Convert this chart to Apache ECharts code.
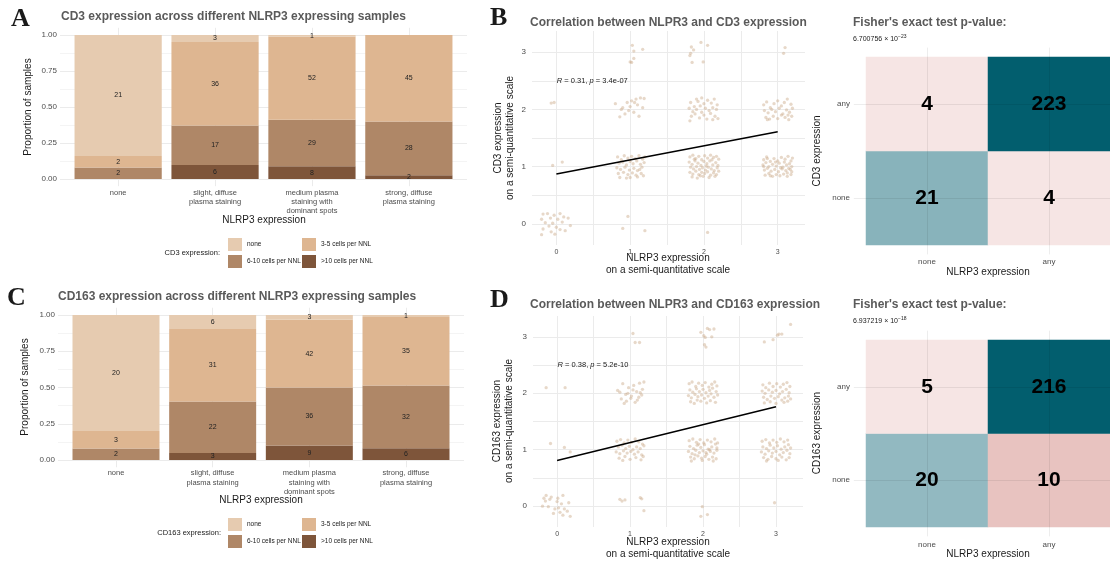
<!DOCTYPE html>
<html><head><meta charset="utf-8">
<script src="https://cdn.jsdelivr.net/npm/echarts@6/dist/echarts.min.js"></script>
<style>html,body{margin:0;padding:0;background:#fff}#c{width:1110px;height:562px}</style>
</head><body><div id="c"></div>
<script>
// ---------------- DATA ----------------
const nlrp3Categories = ['none', 'slight, diffuse\nplasma staining', 'medium plasma\nstaining with\ndominant spots', 'strong, diffuse\nplasma staining'];
const stainLevels = ['none', '3-5 cells per NNL', '6-10 cells per NNL', '>10 cells per NNL'];
// counts per NLRP3 category
const cd3None = [21, 3, 1, 0];
const cd3Low = [2, 36, 52, 45];
const cd3Mid = [2, 17, 29, 28];
const cd3High = [0, 6, 8, 2];
const cd163None = [20, 6, 3, 1];
const cd163Low = [3, 31, 42, 35];
const cd163Mid = [2, 22, 36, 32];
const cd163High = [0, 3, 9, 6];
const proportionTicks = [0, 0.25, 0.5, 0.75, 1];
const scaleTicks = [0, 1, 2, 3];

// jittered scatter points [NLRP3, CD3]
const cd3Points = [
 [-0.18,0.17],[-0.12,0.18],[-0.03,0.15],[0.05,0.18],[0.1,0.12],[0.16,0.1],[-0.2,0.08],[-0.08,0.1],[0.02,0.08],[-0.15,0.02],[-0.05,0.01],[0.08,0.03],[0.19,-0.03],[-0.1,-0.04],[0.0,-0.06],[-0.18,-0.09],[0.05,-0.1],[-0.07,-0.14],[0.12,-0.12],[-0.2,-0.19],[-0.02,-0.18],
 [-0.05,1.02],[0.08,1.08],
 [-0.07,2.11],[-0.03,2.12],
 [0.97,0.13],[0.9,-0.08],[1.2,-0.12],
 [0.83,1.17],[0.88,1.12],[0.92,1.19],[0.97,1.15],[1.02,1.18],[1.07,1.14],[1.12,1.19],[1.17,1.13],[1.2,1.17],[0.85,1.06],[0.9,1.08],[0.95,1.03],[1.0,1.09],[1.04,1.05],[1.09,1.1],[1.14,1.04],[1.19,1.07],[0.82,0.98],[0.87,0.95],[0.93,0.99],[0.99,0.94],[1.05,0.97],[1.1,0.93],[1.16,0.99],[0.84,0.88],[0.91,0.9],[0.97,0.86],[1.03,0.89],[1.08,0.85],[1.15,0.88],[0.86,0.81],[0.95,0.8],[1.0,0.81],[1.1,0.82],[1.18,0.84],[1.13,0.95],
 [0.8,2.1],[0.86,1.87],[0.9,2.03],[0.93,1.92],[0.96,2.12],[1.0,2.05],[1.02,2.15],[1.05,1.95],[1.08,2.18],[1.1,2.08],[1.12,1.88],[1.14,2.2],[1.17,2.03],[1.19,2.19],[0.98,1.98],[1.06,2.12],[0.88,2.0],
 [1.03,3.12],[1.05,3.02],[1.17,3.05],[1.05,2.89],[1.0,2.83],[1.02,2.82],
 [2.05,-0.15],
 [1.81,1.17],[1.85,1.2],[1.89,1.14],[1.93,1.18],[1.97,1.12],[2.01,1.19],[2.05,1.15],[2.09,1.2],[2.13,1.16],[2.17,1.18],[2.2,1.13],[1.8,1.08],[1.84,1.04],[1.88,1.1],[1.92,1.06],[1.96,1.02],[2.0,1.09],[2.04,1.05],[2.08,1.1],[2.12,1.03],[2.16,1.07],[2.19,1.02],[1.82,0.99],[1.86,0.96],[1.9,1.0],[1.94,0.95],[1.98,0.98],[2.02,0.94],[2.06,0.99],[2.1,0.96],[2.14,0.93],[2.18,0.98],[1.81,0.9],[1.85,0.87],[1.89,0.92],[1.93,0.86],[1.97,0.9],[2.01,0.88],[2.05,0.91],[2.09,0.85],[2.13,0.89],[2.17,0.86],[2.2,0.92],[1.84,0.82],[1.91,0.8],[1.99,0.83],[2.07,0.81],[2.15,0.83],[1.87,1.13],[2.03,1.01],[2.11,1.12],[1.95,0.84],
 [1.82,2.12],[1.87,2.05],[1.92,2.14],[1.97,2.2],[2.0,2.1],[2.05,2.16],[2.1,2.11],[2.14,2.18],[2.18,2.08],[1.8,2.02],[1.85,1.96],[1.9,2.0],[1.95,2.06],[2.02,2.02],[2.07,1.98],[2.12,2.03],[2.17,2.0],[1.83,1.88],[1.88,1.92],[1.94,1.85],[2.0,1.9],[2.04,1.83],[2.09,1.93],[2.15,1.88],[2.19,1.84],[1.81,1.8],[1.97,1.95],[2.12,1.82],[1.9,2.18],
 [1.83,3.09],[1.86,3.04],[1.82,2.98],[1.81,2.94],[1.96,3.17],[2.05,3.12],[1.84,2.82],[1.99,2.83],
 [2.81,1.12],[2.85,1.17],[2.9,1.09],[2.95,1.14],[3.0,1.1],[3.05,1.16],[3.1,1.13],[3.14,1.18],[3.18,1.1],[3.2,1.15],[2.8,1.03],[2.84,1.07],[2.88,1.0],[2.93,1.04],[2.98,1.01],[3.02,1.06],[3.07,0.99],[3.12,1.03],[3.16,1.05],[3.19,1.0],[2.82,0.94],[2.86,0.97],[2.91,0.92],[2.96,0.95],[3.01,0.91],[3.06,0.96],[3.11,0.93],[3.15,0.97],[3.19,0.91],[2.83,0.85],[2.88,0.88],[2.93,0.83],[2.98,0.86],[3.03,0.84],[3.08,0.87],[3.13,0.83],[3.18,0.86],[2.81,1.0],[2.97,1.08],[3.09,1.08],[2.9,0.84],[3.04,0.98],[3.17,0.95],[2.86,1.14],[3.13,0.89],
 [2.81,2.08],[2.85,2.13],[2.9,2.03],[2.95,2.1],[3.0,2.15],[3.05,2.06],[3.09,2.12],[3.13,2.18],[3.18,2.09],[2.82,1.98],[2.87,1.94],[2.92,2.0],[2.97,1.96],[3.02,2.02],[3.07,1.92],[3.12,1.99],[3.16,1.95],[3.2,2.02],[2.84,1.86],[2.89,1.83],[2.94,1.88],[3.0,1.84],[3.05,1.9],[3.1,1.86],[3.15,1.82],[3.19,1.88],[2.86,1.82],[3.14,1.9],
 [3.1,3.08],[3.08,2.98]
];
// jittered scatter points [NLRP3, CD163]
const cd163Points = [
 [-0.2,0.0],[-0.15,0.19],[-0.08,0.16],[0.01,0.14],[0.08,0.19],[-0.18,0.14],[0.0,0.08],[0.06,0.04],[0.16,0.06],[-0.12,-0.01],[-0.03,-0.05],[0.1,-0.05],[0.04,-0.11],[0.14,-0.09],[-0.05,-0.13],[0.08,-0.16],[0.18,-0.18],[-0.16,0.09],[0.02,-0.03],[-0.1,0.12],
 [-0.09,1.11],[0.1,1.04],[0.18,0.96],
 [-0.15,2.1],[0.11,2.1],
 [0.86,0.12],[0.89,0.09],[1.14,0.15],[1.16,0.13],[1.19,-0.08],[0.93,0.11],
 [0.82,1.15],[0.87,1.18],[0.92,1.12],[0.97,1.17],[1.02,1.13],[1.07,1.19],[1.12,1.14],[1.17,1.1],[0.84,1.05],[0.89,1.08],[0.94,1.02],[0.99,1.06],[1.04,1.0],[1.09,1.05],[1.14,1.02],[1.19,1.07],[0.81,0.96],[0.86,0.93],[0.91,0.98],[0.96,0.94],[1.01,0.97],[1.06,0.92],[1.11,0.96],[1.16,0.91],[0.85,0.85],[0.93,0.88],[1.0,0.83],[1.08,0.86],[1.15,0.82],[0.9,0.81],[1.18,0.88],
 [0.83,2.05],[0.86,2.02],[0.9,2.17],[0.94,1.98],[0.98,2.1],[1.02,1.95],[1.05,2.14],[1.09,2.03],[1.13,2.18],[1.17,2.07],[1.19,2.2],[0.88,1.9],[0.95,1.86],[1.01,1.91],[1.07,1.84],[1.12,1.93],[1.16,1.97],[0.92,1.82],[1.04,2.06],[1.1,1.88],[0.97,2.0],[1.14,2.01],
 [1.04,3.06],[1.07,2.9],[1.13,2.9],
 [1.99,-0.01],[1.97,-0.18],[2.06,-0.15],
 [1.81,1.16],[1.86,1.19],[1.91,1.13],[1.96,1.18],[2.01,1.12],[2.06,1.17],[2.11,1.14],[2.16,1.19],[2.2,1.12],[1.82,1.06],[1.87,1.02],[1.92,1.08],[1.97,1.04],[2.02,1.09],[2.07,1.01],[2.12,1.05],[2.17,1.1],[1.8,0.97],[1.85,0.93],[1.9,0.99],[1.95,0.95],[2.0,0.98],[2.05,0.92],[2.1,0.97],[2.15,0.94],[2.19,0.99],[1.83,0.87],[1.88,0.84],[1.93,0.89],[1.98,0.85],[2.03,0.88],[2.08,0.83],[2.13,0.87],[2.18,0.84],[1.84,0.8],[1.99,0.81],[2.14,0.8],[1.94,1.1],[2.09,1.0],[2.04,0.95],[1.89,0.91],[2.19,1.03],
 [1.81,2.17],[1.85,2.2],[1.9,2.12],[1.94,2.18],[1.99,2.14],[2.03,2.19],[2.08,2.11],[2.12,2.16],[2.16,2.2],[2.19,2.13],[1.82,2.06],[1.86,2.02],[1.91,2.08],[1.95,2.03],[2.0,2.07],[2.04,2.01],[2.09,2.05],[2.13,2.09],[2.18,2.03],[1.8,1.96],[1.84,1.92],[1.89,1.98],[1.93,1.94],[1.98,1.97],[2.02,1.91],[2.07,1.95],[2.11,1.99],[2.15,1.93],[2.2,1.97],[1.83,1.85],[1.88,1.82],[1.97,1.86],[2.05,1.83],[2.1,1.87],[2.17,1.84],[1.92,1.88],
 [1.97,3.08],[2.06,3.15],[2.09,3.13],[2.15,3.14],[2.01,3.02],[2.03,2.99],[2.02,2.86],[2.04,2.82],[2.12,3.0],
 [2.98,0.06],
 [2.81,1.15],[2.86,1.18],[2.91,1.12],[2.96,1.17],[3.01,1.13],[3.06,1.19],[3.11,1.14],[3.16,1.17],[2.82,1.05],[2.87,1.02],[2.92,1.08],[2.97,1.03],[3.02,1.07],[3.07,1.01],[3.12,1.05],[3.17,1.09],[3.2,1.03],[2.8,0.96],[2.85,0.92],[2.9,0.98],[2.95,0.94],[3.0,0.97],[3.05,0.91],[3.1,0.95],[3.15,0.99],[3.19,0.93],[2.83,0.86],[2.89,0.83],[2.94,0.88],[3.0,0.84],[3.08,0.87],[3.14,0.82],[3.18,0.86],[2.87,0.8],[3.03,0.81],
 [2.82,2.15],[2.86,2.1],[2.91,2.18],[2.96,2.12],[3.01,2.17],[3.06,2.11],[3.1,2.16],[3.15,2.19],[3.19,2.12],[2.81,2.04],[2.85,2.0],[2.9,2.06],[2.95,2.02],[3.0,2.05],[3.05,1.99],[3.09,2.03],[3.14,2.07],[3.18,2.01],[2.83,1.93],[2.88,1.89],[2.93,1.95],[2.98,1.91],[3.03,1.94],[3.08,1.88],[3.12,1.92],[3.17,1.95],[3.2,1.9],[2.84,1.83],[2.92,1.85],[3.0,1.82],[3.11,1.84],[3.16,1.86],
 [2.84,2.91],[2.96,2.95],[3.04,3.05],[3.08,3.05],[3.2,3.22],[3.02,3.03]
];
const cd3Fit = [[0, 0.87], [3, 1.61]];
const cd163Fit = [[0, 0.81], [3, 1.76]];
const cd3Stat = ['0.31', '3.4e-07'];
const cd163Stat = ['0.38', '5.2e-10'];

const fisherLevels = ['none', 'any'];
// [NLRP3 level][marker level]
const fisherCd3 = [[21, 4], [4, 223]];
const fisherCd163 = [[20, 5], [10, 216]];
const fisherCd3P = ['6.700756', '\u221223'];
const fisherCd163P = ['6.937219', '\u221218'];

// ---------------- STYLE ----------------
const FONT = '"Liberation Sans", Arial, sans-serif';
const stainColors = ['#E6CBB0', '#DEB691', '#AF8767', '#7E553A'];
const fisherColorsTop = [['#88B3BB', '#F6E5E4'], ['#F6E5E4', '#025E6E']];
const fisherColorsBottom = [['#92B9C1', '#F6E5E4'], ['#E8C3C0', '#025E6E']];
const GRID_COLOR = '#EBEBEB', MINOR_COLOR = '#F4F4F4', TICK_COLOR = '#4D4D4D';
const TITLE_COLOR = '#5A5A5A';

const grids = [], xAxes = [], yAxes = [], series = [], legends = [], graphics = [];

function txt(x, y, t, font, o) {
  o = o || {};
  graphics.push({type: 'text', x: x, y: y, rotation: o.rotation || 0, silent: true, z: 100,
    style: {text: t, font: font, fill: o.fill || '#1a1a1a',
      align: o.align || 'left', textAlign: o.align || 'left',
      verticalAlign: 'middle', textVerticalAlign: 'middle',
      lineHeight: o.lineHeight, rich: o.rich}});
}

function addGrid(l, t, w, h) {
  grids.push({left: l, top: t, width: w, height: h, containLabel: false, outerBoundsMode: 'none'});
  return grids.length - 1;
}

function addBarPanel(L, counts, stackId) {
  const pxu = L.width / 4.2;
  const gV = addGrid(L.left, L.top - 0.05 * L.height, L.width, L.height * 1.1);
  xAxes.push({type: 'value', gridIndex: gV, min: 0.4, max: 4.6, axisLine: {show: false}, axisTick: {show: false}, axisLabel: {show: false},
    splitLine: {show: true, showMinLine: false, showMaxLine: false, lineStyle: {color: GRID_COLOR, width: 1}}});
  yAxes.push({type: 'value', gridIndex: gV, min: -0.05, max: 1.05, axisLine: {show: false}, axisTick: {show: false}, axisLabel: {show: false}, splitLine: {show: false}});
  const gH = addGrid(L.left, L.top, L.width, L.height);
  xAxes.push({type: 'value', gridIndex: gH, min: 0, max: 1, axisLine: {show: false}, axisTick: {show: false}, axisLabel: {show: false}, splitLine: {show: false}});
  yAxes.push({type: 'value', gridIndex: gH, min: proportionTicks[0], max: proportionTicks[proportionTicks.length - 1], interval: 0.25,
    axisLine: {show: false}, axisTick: {show: false},
    axisLabel: {formatter: v => v.toFixed(2), fontSize: 8, color: TICK_COLOR, margin: 3, fontFamily: FONT},
    splitLine: {show: true, lineStyle: {color: GRID_COLOR, width: 1}},
    minorTick: {show: false, splitNumber: 2}, minorSplitLine: {show: true, lineStyle: {color: MINOR_COLOR, width: 1}}});
  const gB = addGrid(L.left + 0.1 * pxu, L.top, 4 * pxu, L.height);
  xAxes.push({type: 'category', gridIndex: gB, data: nlrp3Categories, axisLine: {show: false}, axisTick: {show: false}, splitLine: {show: false},
    axisLabel: {interval: 0, fontSize: 7.5, lineHeight: 9.3, color: TICK_COLOR, margin: L.labelMargin, fontFamily: FONT}});
  yAxes.push({type: 'value', gridIndex: gB, min: 0, max: 1, axisLine: {show: false}, axisTick: {show: false}, axisLabel: {show: false}, splitLine: {show: false}});
  const totals = nlrp3Categories.map((_, i) => counts.reduce((s, a) => s + a[i], 0));
  [3, 2, 1, 0].forEach(k => {
    series.push({type: 'bar', name: stainLevels[k], xAxisIndex: gB, yAxisIndex: gB, stack: stackId, barCategoryGap: '10%',
      itemStyle: {color: stainColors[k]}, data: counts[k].map((c, i) => c / totals[i]),
      label: {show: true, position: 'inside', fontSize: 7, color: '#222', fontFamily: FONT,
        formatter: p => counts[k][p.dataIndex] ? String(counts[k][p.dataIndex]) : ''},
      emphasis: {disabled: true}, silent: true});
  });
}

function addScatterPanel(L, points, fit, stat) {
  const g = addGrid(L.left, L.top, L.width, L.height);
  const intLabel = v => scaleTicks.indexOf(Math.round(v * 1000) / 1000) >= 0 ? String(Math.round(v)) : '';
  xAxes.push({type: 'value', gridIndex: g, min: -0.33, max: 3.37, splitNumber: 8, axisLine: {show: false}, axisTick: {show: false},
    axisLabel: {formatter: intLabel, showMinLabel: false, showMaxLabel: false, fontSize: 7, color: TICK_COLOR, margin: 4, fontFamily: FONT},
    splitLine: {show: true, showMinLine: false, showMaxLine: false, lineStyle: {color: GRID_COLOR, width: 1}}});
  yAxes.push({type: 'value', gridIndex: g, min: -0.37, max: 3.37, splitNumber: 8, axisLine: {show: false}, axisTick: {show: false},
    axisLabel: {formatter: intLabel, showMinLabel: false, showMaxLabel: false, fontSize: 8, color: TICK_COLOR, margin: 6, fontFamily: FONT},
    splitLine: {show: true, showMinLine: false, showMaxLine: false, lineStyle: {color: GRID_COLOR, width: 1}}});
  series.push({type: 'scatter', xAxisIndex: g, yAxisIndex: g, data: points, symbolSize: 3.3, silent: true,
    itemStyle: {color: 'rgba(200,166,132,0.55)'},
    markPoint: {symbol: 'circle', symbolSize: 1, silent: true, itemStyle: {color: 'rgba(0,0,0,0)'},
      data: [{coord: [0, 2.5]}],
      label: {show: true, position: 'right', distance: 0, fontSize: 7.5, color: '#1a1a1a', fontFamily: FONT,
        formatter: '{i|R} = ' + stat[0] + ', {i|p} = ' + stat[1],
        rich: {i: {fontStyle: 'italic', fontSize: 7.5, fontFamily: FONT, color: '#1a1a1a'}}}}});
  series.push({type: 'line', xAxisIndex: g, yAxisIndex: g, data: fit, symbol: 'none', silent: true, z: 5,
    lineStyle: {color: '#000', width: 1.5}});
}

function addFisherPanel(L, table, colors) {
  const g = addGrid(L.left, L.top, L.width, L.height);
  xAxes.push({type: 'category', gridIndex: g, data: fisherLevels, axisLine: {show: false}, axisTick: {show: false}, splitLine: {show: false},
    axisLabel: {fontSize: 8, color: TICK_COLOR, margin: L.xMargin, fontFamily: FONT}});
  yAxes.push({type: 'category', gridIndex: g, data: fisherLevels, axisLine: {show: false}, axisTick: {show: false}, splitLine: {show: false},
    axisLabel: {fontSize: 8, color: TICK_COLOR, margin: 16, fontFamily: FONT}});
  const data = [];
  table.forEach((row, i) => row.forEach((v, j) => data.push({value: [i, j, v], itemStyle: {color: colors[i][j]}})));
  series.push({type: 'heatmap', xAxisIndex: g, yAxisIndex: g, data: data, silent: true, emphasis: {disabled: true},
    label: {show: true, fontSize: 21, fontWeight: 'bold', color: '#000', fontFamily: FONT, formatter: p => String(p.value[2])}});
  // faint panel grid lines (ggplot panel extends 0.1 cell beyond the tiles)
  const cw = L.width / 2, ch = L.height / 2;
  const go = addGrid(L.left - 0.1 * cw, L.top - 0.1 * ch, L.width + 0.2 * cw, L.height + 0.2 * ch);
  const faint = {show: true, showMinLine: false, showMaxLine: false, lineStyle: {color: 'rgba(0,0,0,0.07)', width: 1}};
  xAxes.push({type: 'value', gridIndex: go, min: 0.4, max: 2.6, splitNumber: 2, z: 3, axisLine: {show: false}, axisTick: {show: false}, axisLabel: {show: false}, splitLine: faint});
  yAxes.push({type: 'value', gridIndex: go, min: 0.4, max: 2.6, splitNumber: 2, z: 3, axisLine: {show: false}, axisTick: {show: false}, axisLabel: {show: false}, splitLine: faint});
}

function addLegend(left, top) {
  const base = {orient: 'vertical', itemGap: 4, itemWidth: 14, itemHeight: 13, icon: 'rect', selectedMode: false, padding: 0,
    textStyle: {fontSize: 6.5, color: '#1a1a1a', fontFamily: FONT}};
  legends.push(Object.assign({}, base, {left: left, top: top, data: [stainLevels[0], stainLevels[2]]}));
  legends.push(Object.assign({}, base, {left: left + 74, top: top, data: [stainLevels[1], stainLevels[3]]}));
}

// ---------------- PANELS ----------------
addBarPanel({left: 60, width: 407, top: 35, height: 144, labelMargin: 9}, [cd3None, cd3Low, cd3Mid, cd3High], 'cd3');
addScatterPanel({left: 532, top: 31, width: 273, height: 214}, cd3Points, cd3Fit, cd3Stat);
addFisherPanel({left: 866, top: 57, width: 244, height: 188, xMargin: 13}, fisherCd3, fisherColorsTop);
addBarPanel({left: 58, width: 406, top: 315, height: 145, labelMargin: 8.5}, [cd163None, cd163Low, cd163Mid, cd163High], 'cd163');
addScatterPanel({left: 533, top: 316, width: 270, height: 211}, cd163Points, cd163Fit, cd163Stat);
addFisherPanel({left: 866, top: 340, width: 244, height: 187, xMargin: 14}, fisherCd163, fisherColorsBottom);
addLegend(228, 238);
addLegend(228, 518);

// ---------------- TEXT ----------------
const LETTER = 'bold 26px "Liberation Serif", "DejaVu Serif", serif';
const TITLE = 'bold 12px ' + FONT;
const AXT = '10px ' + FONT;
txt(11, 19, 'A', LETTER); txt(490, 18, 'B', LETTER); txt(7, 298, 'C', LETTER); txt(490, 300, 'D', LETTER);
txt(61, 17, 'CD3 expression across different NLRP3 expressing samples', TITLE, {fill: TITLE_COLOR});
txt(530, 23, 'Correlation between NLPR3 and CD3 expression', TITLE, {fill: TITLE_COLOR});
txt(853, 23, "Fisher's exact test p-value:", TITLE, {fill: TITLE_COLOR});
txt(58, 297, 'CD163 expression across different NLRP3 expressing samples', TITLE, {fill: TITLE_COLOR});
txt(530, 305, 'Correlation between NLPR3 and CD163 expression', TITLE, {fill: TITLE_COLOR});
txt(853, 305, "Fisher's exact test p-value:", TITLE, {fill: TITLE_COLOR});
const supRich = {sup: {fontSize: 5, fontFamily: FONT, fill: '#1a1a1a', color: '#1a1a1a', padding: [0, 0, 5, 0]}};
txt(853, 39, fisherCd3P[0] + ' \u00d7 10{sup|' + fisherCd3P[1] + '}', '7px ' + FONT, {rich: supRich});
txt(853, 321, fisherCd163P[0] + ' \u00d7 10{sup|' + fisherCd163P[1] + '}', '7px ' + FONT, {rich: supRich});
// axis titles
txt(264, 220, 'NLRP3 expression', AXT, {align: 'center'});
txt(28, 107, 'Proportion of samples', AXT, {align: 'center', rotation: Math.PI / 2});
txt(261, 500, 'NLRP3 expression', AXT, {align: 'center'});
txt(25, 387, 'Proportion of samples', AXT, {align: 'center', rotation: Math.PI / 2});
txt(668, 264, 'NLRP3 expression\non a semi-quantitative scale', AXT, {align: 'center', lineHeight: 12});
txt(504, 138, 'CD3 expression\non a semi-quantitative scale', AXT, {align: 'center', lineHeight: 12, rotation: Math.PI / 2});
txt(668, 548, 'NLRP3 expression\non a semi-quantitative scale', AXT, {align: 'center', lineHeight: 12});
txt(503, 421, 'CD163 expression\non a semi-quantitative scale', AXT, {align: 'center', lineHeight: 12, rotation: Math.PI / 2});
txt(988, 272, 'NLRP3 expression', AXT, {align: 'center'});
txt(817, 151, 'CD3 expression', AXT, {align: 'center', rotation: Math.PI / 2});
txt(988, 554, 'NLRP3 expression', AXT, {align: 'center'});
txt(817, 433, 'CD163 expression', AXT, {align: 'center', rotation: Math.PI / 2});
// legend titles
txt(220, 253, 'CD3 expression:', '7.5px ' + FONT, {align: 'right'});
txt(221, 533, 'CD163 expression:', '7.5px ' + FONT, {align: 'right'});

const chart = echarts.init(document.getElementById('c'), null, {renderer: 'canvas'});
chart.setOption({
  animation: false,
  backgroundColor: '#ffffff',
  textStyle: {fontFamily: FONT},
  grid: grids, xAxis: xAxes, yAxis: yAxes, series: series, legend: legends, graphic: graphics,
  tooltip: {show: false}
});
</script>
</body></html>
